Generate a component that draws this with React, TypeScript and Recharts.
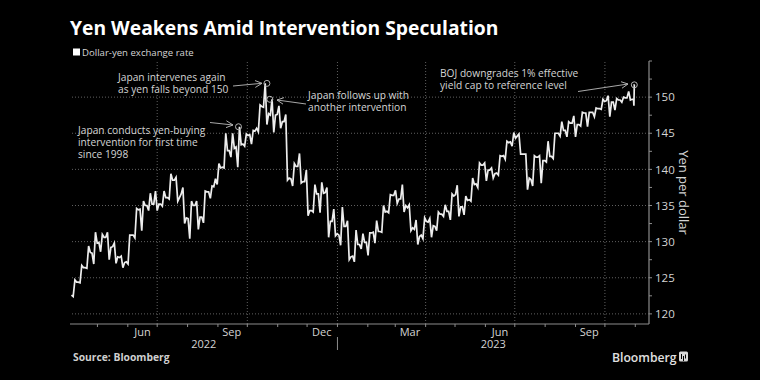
import { ComposedChart, Line, XAxis, YAxis, ReferenceLine, ReferenceDot } from "recharts"

// weekly dollar-yen prices, weeks starting Mondays from 2022-04-04
const firstMonday = "2022-04-04"

const open = [
  122.6, 124.4, 126.4, 128.4, 129.9, 130.6, 129.3, 127.8, 127.2, 130.9,
  134.5, 135.0, 135.2, 135.2, 136.1, 138.5, 136.6, 133.2, 135.0, 133.4,
  136.9, 138.7, 140.3, 142.6, 143.1, 143.5, 144.8, 145.7, 148.6, 147.5,
  147.6, 146.6, 138.7, 140.4, 138.3, 134.3, 136.6, 136.8, 132.8, 130.9,
  132.1, 128.0, 129.6, 129.9, 131.3, 131.4, 134.2, 136.4, 135.9, 134.7,
  131.7, 130.9, 132.7, 132.1, 133.8, 134.2, 136.5, 134.8, 135.8, 138.0,
  140.6, 139.9, 139.5, 141.9, 143.8, 144.6, 142.1, 138.6, 141.7, 141.2,
  141.8, 145.0, 145.4, 146.4, 146.2, 147.8, 147.9, 148.4, 149.5, 149.3,
  149.6, 149.9, 149.7,
]
const high = [
  124.7, 126.7, 129.4, 131.3, 131.0, 131.3, 129.8, 128.0, 130.9, 134.6,
  135.6, 136.7, 137.0, 137.0, 139.4, 138.9, 137.5, 135.6, 135.6, 137.0,
  137.7, 140.8, 145.0, 145.0, 145.9, 144.9, 145.4, 148.9, 151.9, 149.7,
  148.8, 147.6, 140.8, 142.2, 139.9, 137.9, 138.2, 137.5, 134.5, 134.8,
  132.9, 131.6, 131.1, 131.2, 132.9, 135.0, 136.5, 137.1, 137.9, 135.1,
  133.0, 133.3, 133.2, 134.1, 135.1, 136.6, 137.8, 136.3, 138.8, 140.9,
  140.9, 140.2, 141.9, 143.9, 145.1, 144.9, 142.1, 141.9, 141.9, 143.9,
  145.0, 146.6, 146.6, 147.4, 147.9, 147.9, 148.5, 149.7, 150.2, 149.8,
  150.0, 150.8, 151.7,
]
const low = [
  122.4, 124.3, 126.3, 126.9, 128.6, 127.5, 127.0, 126.4, 126.9, 130.5,
  131.5, 134.3, 134.3, 134.9, 135.9, 135.6, 132.5, 130.4, 131.7, 132.6,
  136.0, 137.9, 140.2, 141.7, 140.3, 143.2, 143.5, 145.2, 146.2, 145.1,
  145.7, 138.5, 137.7, 138.1, 133.6, 134.1, 134.0, 130.6, 130.8, 129.5,
  127.5, 127.2, 129.0, 128.1, 129.8, 131.3, 134.0, 135.3, 134.1, 131.5,
  129.6, 130.4, 130.6, 131.5, 133.5, 133.0, 133.5, 133.7, 135.6, 137.5,
  138.4, 138.8, 139.2, 141.4, 143.2, 142.1, 137.2, 137.7, 138.1, 141.0,
  141.5, 144.6, 144.5, 144.5, 146.0, 145.9, 147.3, 148.3, 147.3, 148.2,
  149.3, 149.6, 148.8,
]
const close = [
  124.4, 126.4, 128.5, 129.8, 130.6, 129.2, 127.9, 127.1, 130.9, 134.4,
  135.0, 135.2, 135.2, 136.1, 138.5, 136.1, 133.3, 135.0, 133.4, 136.9,
  137.6, 140.2, 142.6, 142.9, 143.4, 144.7, 145.3, 148.7, 147.7, 147.5,
  146.6, 138.8, 140.4, 138.3, 134.3, 136.6, 136.7, 132.8, 131.1, 132.1,
  127.9, 129.6, 129.9, 131.2, 131.4, 134.1, 136.4, 135.9, 135.0, 131.9,
  130.7, 132.8, 132.2, 133.8, 134.2, 136.3, 134.8, 135.7, 137.9, 140.6,
  139.9, 139.4, 141.8, 143.7, 144.3, 142.1, 138.8, 141.7, 141.2, 141.8,
  145.0, 145.4, 146.4, 146.2, 147.8, 147.9, 148.4, 149.4, 149.3, 149.6,
  149.9, 149.7, 151.7,
]

// intervention / policy events marked with circles
const eventDates = ["2022-09-22", "2022-10-21", "2022-10-24", "2023-10-31"]
const eventValues = [145.9, 151.9, 149.7, 151.7]

const axisStart = "2022-04-03"
const axisEnd = "2023-11-15"
const monthStarts = [
  "2022-05-01", "2022-06-01", "2022-07-01", "2022-08-01", "2022-09-01", "2022-10-01",
  "2022-11-01", "2022-12-01", "2023-01-01", "2023-02-01", "2023-03-01", "2023-04-01",
  "2023-05-01", "2023-06-01", "2023-07-01", "2023-08-01", "2023-09-01", "2023-10-01",
  "2023-11-01",
]
const quarterStarts = ["2022-07-01", "2022-10-01", "2023-01-01", "2023-04-01", "2023-07-01", "2023-10-01"]
const monthLabelDates = ["2022-06-16", "2022-09-15", "2022-12-16", "2023-03-16", "2023-06-16", "2023-09-15"]
const monthLabelNames = ["Jun", "Sep", "Dec", "Mar", "Jun", "Sep"]
const yearNames = ["2022", "2023"]
const yearBreak = "2023-01-01"

const yMajor = [120, 125, 130, 135, 140, 145, 150]
const yMinor = [122.5, 127.5, 132.5, 137.5, 142.5, 147.5, 152.5, 155]

const day = (s: string) => Date.UTC(+s.slice(0, 4), +s.slice(5, 7) - 1, +s.slice(8, 10)) / 86400000

// each week drawn as open -> extreme -> extreme -> close so the trace reads like daily bars
const path = open.flatMap((o, i) => {
  const m = day(firstMonday) + i * 7
  const up = close[i] > o
  const mid = up ? [low[i], high[i]] : [high[i], low[i]]
  const last = i === open.length - 1
  const ts = last ? [m + 0.2, m + 0.6, m + 1.0, m + 1.3] : [m + 0.5, m + 2.25, m + 4.0, m + 5.75]
  return [o, mid[0], mid[1], close[i]].map((v, k) => ({ t: ts[k], v }))
})

const x0 = day(axisStart)
const x1 = day(axisEnd)
const jan = day(yearBreak)
const yearMids = [(x0 + jan) / 2, (jan + x1) / 2]
const monthDays = monthStarts.map(day)
const labelDays = monthLabelDates.map(day)
const xTicks = [...monthDays, ...labelDays, ...yearMids].sort((a, b) => a - b)

const FONT = "'Open Sans', 'DejaVu Sans', sans-serif"
const AXIS = "#8c8c8c"
const TEXT = "#d4d4d4"
const GRID = "#606060"

function YTick(props: any) {
  const { x, y, payload } = props
  if (!yMajor.includes(payload.value)) return null
  return (
    <text x={x} y={y} dy="0.36em" fontSize={11.5} fill={TEXT} fontFamily={FONT}>
      {payload.value}
    </text>
  )
}

function XTick(props: any) {
  const { x, y, payload } = props
  const v = payload.value
  if (monthDays.includes(v)) {
    return (
      <g stroke={AXIS}>
        <line x1={x} x2={x} y1={y} y2={y + 3} />
        {v === jan && <line x1={x} x2={x} y1={y + 13} y2={y + 26} />}
      </g>
    )
  }
  const li = labelDays.indexOf(v)
  if (li >= 0) {
    return (
      <text x={x} y={y + 11.5} textAnchor="middle" fontSize={11} fill={TEXT} fontFamily={FONT}>
        {monthLabelNames[li]}
      </text>
    )
  }
  const yi = yearMids.indexOf(v)
  return (
    <text x={x} y={y + 23.5} textAnchor="middle" fontSize={11} fill={TEXT} fontFamily={FONT}>
      {yearNames[yi]}
    </text>
  )
}

function Notes() {
  const txt = { fontSize: 10.2, fill: TEXT, fontFamily: FONT }
  return (
    <svg width={760} height={380} style={{ position: "absolute", left: 0, top: 0, pointerEvents: "none" }}>
      <defs>
        <marker id="ah" markerWidth="8" markerHeight="8" refX="7" refY="4" orient="auto" markerUnits="userSpaceOnUse">
          <path d="M0,0.5 L7,4 L0,7.5" fill="none" stroke="#bbb" strokeWidth={0.9} />
        </marker>
      </defs>
      <text x={70} y={35} fontSize={19.3} fontWeight={700} fill="#fff" fontFamily={FONT}>
        Yen Weakens Amid Intervention Speculation
      </text>
      <rect x={73} y={48.5} width={7} height={7} fill="#fff" />
      <text x={82} y={55.5} fontSize={9.6} fill={TEXT} fontFamily={FONT}>
        Dollar-yen exchange rate
      </text>

      <text {...txt}>
        <tspan x={78} y={133.5}>Japan conducts yen-buying</tspan>
        <tspan x={78} y={145.5}>intervention for first time</tspan>
        <tspan x={78} y={157.5}>since 1998</tspan>
      </text>
      <line x1={210} y1={122.5} x2={233} y2={125} stroke="#bbb" strokeWidth={0.9} markerEnd="url(#ah)" />

      <text {...txt}>
        <tspan x={118} y={80.5}>Japan intervenes again</tspan>
        <tspan x={118} y={93}>as yen falls beyond 150</tspan>
      </text>
      <line x1={233} y1={86} x2={262} y2={83.3} stroke="#bbb" strokeWidth={0.9} markerEnd="url(#ah)" />

      <text {...txt}>
        <tspan x={308} y={98.5}>Japan follows up with</tspan>
        <tspan x={308} y={111}>another intervention</tspan>
      </text>
      <line x1={306} y1={104} x2={277} y2={100} stroke="#bbb" strokeWidth={0.9} markerEnd="url(#ah)" />

      <text {...txt}>
        <tspan x={440} y={76.5}>BOJ downgrades 1% effective</tspan>
        <tspan x={440} y={88.5}>yield cap to reference level</tspan>
      </text>
      <line x1={578} y1={91.5} x2={628} y2={84} stroke="#bbb" strokeWidth={0.9} markerEnd="url(#ah)" />

      <text x={73} y={361} fontSize={10.3} fontWeight={700} fill="#cfcfcf" fontFamily={FONT}>
        Source: Bloomberg
      </text>
      <text x={612} y={361.5} fontSize={12.2} fontWeight={600} fill="#e0e0e0" fontFamily={FONT}>
        Bloomberg
      </text>
      <rect x={679} y={351.5} width={9} height={10} rx={1.5} fill="#d8d8d8" />
      <path d="M681.5,354 v5 M683.5,356 v5 M685.5,354.5 v4" stroke="#000" strokeWidth={1} />
    </svg>
  )
}

export default function App() {
  return (
    <div style={{ position: "relative", width: 760, height: 380, background: "#000" }}>
      <style>{"body{margin:0;background:#000}"}</style>
      <ComposedChart width={760} height={380} data={path} margin={{ top: 61, right: 41, bottom: 26, left: 70 }}>
        <XAxis
          dataKey="t"
          type="number"
          domain={[x0, x1]}
          allowDataOverflow
          ticks={xTicks}
          interval={0}
          height={30}
          tickSize={0}
          tickMargin={0}
          tickLine={false}
          axisLine={{ stroke: AXIS, strokeWidth: 1.2 }}
          tick={(p: any) => <XTick {...p} />}
        />
        <YAxis
          orientation="right"
          type="number"
          domain={[118.6, 155]}
          allowDataOverflow
          ticks={[...yMajor, ...yMinor].sort((a, b) => a - b)}
          interval={0}
          width={70}
          tickSize={3}
          tickMargin={3}
          axisLine={{ stroke: AXIS, strokeWidth: 1.2 }}
          tickLine={{ stroke: AXIS }}
          tick={(p: any) => <YTick {...p} />}
          label={{ value: "Yen per dollar", angle: 90, position: "center", fill: TEXT, fontSize: 13, fontFamily: FONT }}
        />
        {yMajor.map((v) => (
          <ReferenceLine key={"h" + v} y={v} stroke={GRID} strokeDasharray="1 2" />
        ))}
        {quarterStarts.map((d) => (
          <ReferenceLine key={"v" + d} x={day(d)} stroke={GRID} strokeDasharray="1 2" />
        ))}
        <Line
          dataKey="v"
          type="linear"
          stroke="#ededed"
          strokeWidth={1.7}
          dot={false}
          isAnimationActive={false}
        />
        {eventDates.map((d, i) => (
          <ReferenceDot
            key={d}
            x={day(d)}
            y={eventValues[i]}
            r={3}
            fill="#000"
            fillOpacity={0}
            stroke="#b5b5b5"
            strokeWidth={1}
          />
        ))}
      </ComposedChart>
      <Notes />
    </div>
  )
}
